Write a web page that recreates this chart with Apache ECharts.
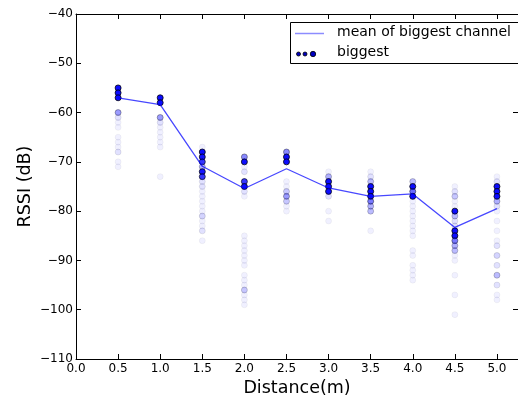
<!DOCTYPE html>
<html>
<head>
<meta charset="utf-8">
<script src="https://cdn.jsdelivr.net/npm/echarts@6/dist/echarts.min.js"></script>
<style>
html,body{margin:0;padding:0;background:#fff;}
#chart{width:518px;height:401px;}
</style>
</head>
<body>
<div id="chart"></div>
<script>
// ---- data ----
const distances = [0.5, 1.0, 1.5, 2.0, 2.5, 3.0, 3.5, 4.0, 4.5, 5.0];
const meanRssi  = [-57.0, -58.4, -70.9, -75.4, -71.4, -75.3, -77.0, -76.5, -83.3, -79.5];

// RSSI readings of the "biggest" channel at each distance and how often each was seen
const rssi_0_5 = [-55, -56, -57, -60, -61, -62, -63, -65, -66, -67, -68, -70, -71];
const count_0_5 = [50, 50, 50, 8, 2, 1, 1, 1, 1, 1, 2, 1, 1];
const rssi_1_0 = [-57, -58, -61, -62, -63, -64, -65, -66, -67, -73];
const count_1_0 = [50, 50, 8, 2, 1, 1, 1, 1, 1, 1];
const rssi_1_5 = [-67, -68, -69, -70, -71, -72, -73, -74, -75, -76, -77, -78, -79, -80, -81, -82, -83, -84, -86];
const count_1_5 = [1, 50, 40, 25, 6, 40, 25, 2, 2, 1, 1, 1, 1, 1, 3, 1, 1, 2, 1];
const rssi_2_0 = [-69, -70, -71, -72, -74, -75, -76, -77, -85, -86, -87, -88, -89, -90, -91, -93, -94, -95, -96, -97, -98, -99];
const count_2_0 = [10, 50, 1, 2, 25, 50, 2, 1, 1, 1, 1, 1, 1, 1, 1, 1, 1, 1, 4, 1, 1, 1];
const rssi_2_5 = [-68, -69, -70, -74, -75, -76, -77, -78, -79, -80];
const count_2_5 = [10, 50, 50, 1, 1, 4, 8, 4, 1, 1];
const rssi_3_0 = [-72, -73, -74, -75, -76, -77, -80, -82];
const count_3_0 = [1, 6, 50, 50, 50, 2, 1, 1];
const rssi_3_5 = [-72, -73, -74, -75, -76, -77, -78, -79, -80, -84];
const count_3_5 = [1, 2, 5, 50, 50, 50, 12, 6, 5, 1];
const rssi_4_0 = [-74, -75, -76, -77, -78, -79, -80, -81, -82, -83, -84, -85, -88, -89, -91, -92, -93, -94];
const count_4_0 = [5, 50, 14, 50, 1, 1, 1, 1, 1, 1, 1, 1, 1, 1, 1, 1, 1, 1];
const rssi_4_5 = [-75, -76, -77, -78, -79, -80, -81, -82, -83, -84, -85, -86, -87, -88, -89, -90, -93, -97, -101];
const count_4_5 = [1, 2, 4, 1, 1, 50, 5, 2, 2, 50, 50, 12, 6, 5, 1, 1, 1, 1, 1];
const rssi_5_0 = [-73, -74, -75, -76, -77, -78, -79, -80, -82, -84, -86, -87, -89, -91, -93, -95, -97, -98];
const count_5_0 = [1, 2, 50, 50, 50, 6, 2, 1, 1, 1, 1, 2, 3, 2, 5, 2, 1, 1];

const rssiByDistance  = [rssi_0_5, rssi_1_0, rssi_1_5, rssi_2_0, rssi_2_5, rssi_3_0, rssi_3_5, rssi_4_0, rssi_4_5, rssi_5_0];
const countByDistance = [count_0_5, count_1_0, count_1_5, count_2_0, count_2_5, count_3_0, count_3_5, count_4_0, count_4_5, count_5_0];

// ---- build ----
const POINT_ALPHA = 0.06;
const scatterData = [];
distances.forEach((d, i) => {
  rssiByDistance[i].forEach((v, j) => {
    const n = countByDistance[i][j];
    scatterData.push({ value: [d, v], itemStyle: { opacity: 1 - Math.pow(1 - POINT_ALPHA, n) } });
  });
});
const lineData = distances.map((d, i) => [d, meanRssi[i]]);

const FONT = 'DejaVu Sans';
const minus = v => String(v).replace('-', '\u2212');

const chart = echarts.init(document.getElementById('chart'), null, { renderer: 'canvas' });
chart.setOption({
  animation: false,
  backgroundColor: '#fff',
  textStyle: { fontFamily: FONT },
  grid: { left: 76, right: 0, top: 14, bottom: 42, containLabel: false, outerBoundsMode: 'none' },
  xAxis: [
    {
      type: 'value', min: 0, max: 5.25, interval: 0.5, position: 'bottom',
      name: 'Distance(m)', nameLocation: 'middle', nameGap: 20,
      nameTextStyle: { fontFamily: FONT, fontSize: 17.5, color: '#000' },
      axisLine: { show: true, onZero: false, lineStyle: { color: '#000', width: 1 } },
      axisTick: { show: true, inside: true, length: 5, lineStyle: { color: '#000' } },
      axisLabel: { show: true, fontFamily: FONT, fontSize: 12, color: '#000', margin: 4,
                   showMaxLabel: false, formatter: v => v.toFixed(1) },
      splitLine: { show: false }
    },
    {
      type: 'value', min: 0, max: 5.25, interval: 0.5, position: 'top',
      axisLine: { show: true, onZero: false, lineStyle: { color: '#000', width: 1 } },
      axisTick: { show: true, inside: true, length: 5, lineStyle: { color: '#000' } },
      axisLabel: { show: false },
      splitLine: { show: false }
    }
  ],
  yAxis: [
    {
      type: 'value', min: -110, max: -40, interval: 10, position: 'left',
      name: 'RSSI (dB)', nameLocation: 'middle', nameGap: 42, nameMoveOverlap: false,
      nameTextStyle: { fontFamily: FONT, fontSize: 17.5, color: '#000' },
      axisLine: { show: true, onZero: false, lineStyle: { color: '#000', width: 1 } },
      axisTick: { show: true, inside: true, length: 5, lineStyle: { color: '#000' } },
      axisLabel: { show: true, fontFamily: FONT, fontSize: 12, color: '#000', margin: 3, formatter: minus },
      splitLine: { show: false }
    },
    {
      type: 'value', min: -110, max: -40, interval: 10, position: 'right',
      axisLine: { show: true, onZero: false, lineStyle: { color: '#000', width: 1 } },
      axisTick: { show: true, inside: true, length: 5, lineStyle: { color: '#000' } },
      axisLabel: { show: false },
      splitLine: { show: false }
    }
  ],
  series: [
    {
      name: 'biggest', type: 'scatter', xAxisIndex: 0, yAxisIndex: 0,
      symbol: 'circle', symbolSize: 6,
      itemStyle: { color: '#0000ff', borderColor: '#000', borderWidth: 0.8 },
      data: scatterData, z: 2
    },
    {
      name: 'mean of biggest channel', type: 'line', xAxisIndex: 0, yAxisIndex: 0,
      symbol: 'none', lineStyle: { color: 'rgba(0,0,255,0.72)', width: 1.3 },
      data: lineData, z: 3
    }
  ],
  graphic: [
    { type: 'rect', shape: { x: 290.5, y: 22.5, width: 228, height: 41 },
      style: { fill: '#fff', stroke: '#000', lineWidth: 1 }, z: 10 },
    { type: 'line', shape: { x1: 295, y1: 33.5, x2: 324, y2: 33.5 },
      style: { stroke: '#8c8cff', lineWidth: 1.5 }, z: 11 },
    { type: 'text', left: 337, top: 25, z: 11,
      style: { text: 'mean of biggest channel', font: '14px "DejaVu Sans"', fill: '#000' } },
    { type: 'circle', shape: { cx: 298.5, cy: 54, r: 2 }, style: { fill: '#0000c0', stroke: '#000', lineWidth: 0.8 }, z: 11 },
    { type: 'circle', shape: { cx: 305, cy: 54, r: 2 }, style: { fill: '#0000c0', stroke: '#000', lineWidth: 0.8 }, z: 11 },
    { type: 'circle', shape: { cx: 313, cy: 54, r: 2.7 }, style: { fill: '#0000c0', stroke: '#000', lineWidth: 0.8 }, z: 11 },
    { type: 'text', left: 337, top: 45, z: 11,
      style: { text: 'biggest', font: '14px "DejaVu Sans"', fill: '#000' } }
  ]
});
</script>
</body>
</html>
